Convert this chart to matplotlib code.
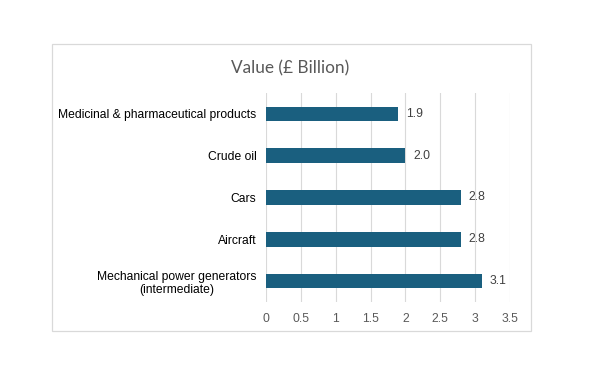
import matplotlib
matplotlib.use("Agg")
import matplotlib.pyplot as plt
from matplotlib.patches import Rectangle

categories = ["Mechanical power generators\n(intermediate)", "Aircraft", "Cars", "Crude oil",
              "Medicinal & pharmaceutical products"]
values = [3.1, 2.8, 2.8, 2.0, 1.9]
labels = ["3.1", "2.8", "2.8", "2.0", "1.9"]
xticks = [0, 0.5, 1, 1.5, 2, 2.5, 3, 3.5]
xticklabels = ["0", "0.5", "1", "1.5", "2", "2.5", "3", "3.5"]
title = "Value (£ Billion)"

plt.rcParams['font.family'] = ['Liberation Sans', 'DejaVu Sans']

fig = plt.figure(figsize=(5.95, 3.71), dpi=100)
fig.patches.append(Rectangle((52/595, 1-331/371), (531-52)/595, (331-44)/371,
                             transform=fig.transFigure, fill=False, edgecolor="#D9D9D9", lw=0.9))
ax = fig.add_axes([266/595, 1-302/371, (510-266)/595, (302-93)/371])
y = list(range(len(categories)))
ax.barh(y, values, height=0.35, color="#1A5F7F", zorder=3)
for yi, v, lab in zip(y, values, labels):
    ax.text(v + 0.11, yi, lab, va="center", ha="left", fontsize=8.7, color="#404040")
ax.set_xlim(0, 3.5)
ax.set_ylim(-0.5, 4.5)
ax.set_xticks(xticks)
ax.set_xticklabels(xticklabels, color="#595959", fontsize=8.7)
ax.set_yticks(y)
ax.set_yticklabels(categories, fontsize=8.7, color="#000000", ha="right", multialignment="center")
ax.tick_params(axis="y", length=0, pad=7)
ax.tick_params(axis="x", length=0, pad=8)
ax.grid(axis="x", color="#D9D9D9", lw=0.8, zorder=0)
for s in ax.spines.values():
    s.set_visible(False)
fig.text(290/595, 1-68/371, title, ha="center", va="center", fontsize=12.4, color="#595959",
         family=["Lato", "DejaVu Sans"])
fig.savefig("out.png", dpi=100)
